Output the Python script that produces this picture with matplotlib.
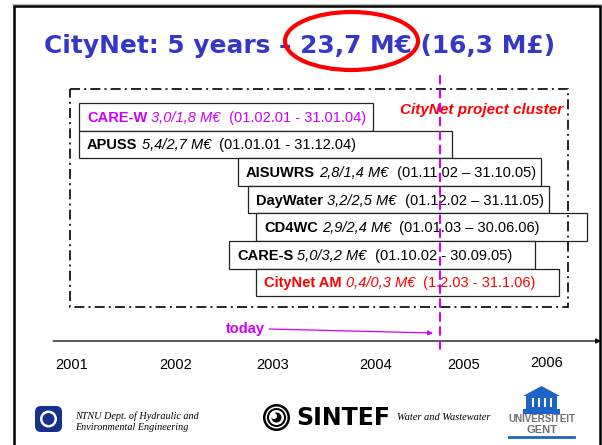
import matplotlib
matplotlib.use("Agg")
import matplotlib.pyplot as plt
from matplotlib.patches import Ellipse, Rectangle, Circle, FancyBboxPatch, Polygon
from matplotlib.offsetbox import TextArea, HPacker, AnnotationBbox

# --- data ---
title = "CityNet: 5 years – 23,7 M€ (16,3 M£)"
projects = ["CARE-W", "APUSS", "AISUWRS", "DayWater", "CD4WC", "CARE-S", "CityNet AM"]
budgets = ["3,0/1,8 M€", "5,4/2,7 M€", "2,8/1,4 M€", "3,2/2,5 M€",
           "2,9/2,4 M€", "5,0/3,2 M€", "0,4/0,3 M€"]
periods = ["(01.02.01 - 31.01.04)", "(01.01.01 - 31.12.04)", "(01.11.02 – 31.10.05)",
           "(01.12.02 – 31.11.05)", "(01.01.03 – 30.06.06)", "(01.10.02 - 30.09.05)",
           "(1.2.03 - 31.1.06)"]
# bar extents on the slide's time line (slide units)
bar_start = [79, 79, 238, 248, 256, 229, 256]
bar_end = [373, 452, 541, 549, 587, 535, 559]
text_colors = ["#CC00FF", "black", "black", "black", "black", "black", "#FF0000"]

years = ["2001", "2002", "2003", "2004", "2005", "2006"]
year_ticks = [72, 176, 273, 376, 464, 547]
today_x = 440

MAG = "#CC00FF"
BLUE = "#3636C8"
SANS = "Liberation Sans"

fig = plt.figure(figsize=(6.02, 4.45), dpi=100)
ax = fig.add_axes([0, 0, 1, 1])
ax.set_xlim(0, 602)
ax.set_ylim(445, 0)
ax.axis("off")

# slide frame
ax.plot([12, 602], [4, 4], color="#BBBBBB", lw=0.8)
ax.plot([14, 14, 600, 600], [460, 6, 6, 460], color="black", lw=1.8,
        solid_joinstyle="miter")

# title + red ellipse
ax.text(300, 53, title, ha="center", va="baseline", fontsize=17.9,
        fontweight="bold", color=BLUE, family="DejaVu Sans")
ax.add_patch(Ellipse((351.5, 41), 133, 58, fill=False, ec="#FF0000", lw=3, zorder=5))

# project bars
row_top, row_h = 103, 27.6
rows = [row_top + row_h * (i + 0.5) for i in range(len(projects))]
widths = [e - s for s, e in zip(bar_start, bar_end)]
ax.barh(rows, widths, left=bar_start, height=row_h, color="white",
        edgecolor="#222222", lw=0.9, zorder=2)

for y, s, name, bud, per, c in zip(rows, bar_start, projects, budgets, periods, text_colors):
    parts = [TextArea(name, textprops=dict(fontsize=10.5, fontweight="bold", color=c, family=SANS)),
             TextArea(bud, textprops=dict(fontsize=10.5, style="italic", color=c, family=SANS)),
             TextArea(" " + per, textprops=dict(fontsize=10.5, color=c, family=SANS))]
    pack = HPacker(children=parts, sep=3, pad=0, align="baseline")
    ab = AnnotationBbox(pack, (s + 8, y + 1), box_alignment=(0, 0.5), frameon=False,
                        pad=0, zorder=3)
    ax.add_artist(ab)

# cluster frame
ax.add_patch(Rectangle((70, 89), 498, 218, fill=False, ec="black", lw=1.2,
                       ls=(0, (6, 2.5, 1.2, 2.5)), zorder=4))
ax.text(563, 110, "CityNet project cluster", ha="right", va="center", fontsize=11,
        fontweight="bold", style="italic", color="#FF0000", family=SANS, zorder=4)

# today marker
ax.plot([today_x, today_x], [75, 352], color=MAG, lw=1.5, ls=(0, (4.5, 2.2)), zorder=6)
ax.text(245, 329, "today", ha="center", va="center", fontsize=10.5, fontweight="bold",
        color=MAG, family=SANS)
ax.annotate("", xy=(today_x - 7, 333), xytext=(269, 329),
            arrowprops=dict(arrowstyle="-|>", color=MAG, lw=0.9, mutation_scale=7,
                            shrinkA=0, shrinkB=0))

# time axis
ax.annotate("", xy=(601, 341), xytext=(53, 341),
            arrowprops=dict(arrowstyle="-|>", color="black", lw=0.9, mutation_scale=7,
                            shrinkA=0, shrinkB=0))
for yr, x in zip(years, year_ticks):
    ax.text(x, 363 if yr == "2006" else 365, yr, ha="center", va="center",
            fontsize=10.5, family=SANS)

# footer: NTNU
ax.add_patch(FancyBboxPatch((35, 406), 27, 26, boxstyle="round,pad=0,rounding_size=6",
                            fc="#15318C", ec="none"))
ax.add_patch(Circle((48.5, 419), 8.5, fc="white", ec="none"))
ax.add_patch(Circle((48.5, 419), 6, fc="#15318C", ec="none"))
ax.text(75, 416, "NTNU Dept. of Hydraulic and", fontsize=7.3, style="italic",
        family="Liberation Serif", va="center")
ax.text(75, 427, "Environmental Engineering", fontsize=7.3, style="italic",
        family="Liberation Serif", va="center")

# footer: SINTEF
for r, col in [(13.5, "black"), (11, "white"), (9.5, "black"), (7.5, "white"), (5, "black")]:
    ax.add_patch(Circle((276.5, 417.5), r, fc=col, ec="none"))
ax.add_patch(Circle((274, 416), 3, fc="white", ec="none"))
ax.text(296, 418, "SINTEF", fontsize=17, fontweight="bold", family="DejaVu Sans",
        va="center", ha="left")
ax.text(397, 418, "Water and Wastewater", fontsize=7.5, style="italic",
        family="Liberation Serif", va="center")

# footer: Ghent University
UG = "#1E64C8"
ax.add_patch(Polygon([(523, 396), (541.5, 386), (560, 396)], fc=UG, ec="none"))
ax.add_patch(Rectangle((526, 396), 31, 13, fc=UG, ec="none"))
for gx in [532, 538, 544, 550]:
    ax.add_patch(Rectangle((gx, 398), 1.5, 9, fc="white", ec="none"))
ax.add_patch(Rectangle((523, 409), 37, 4.5, fc=UG, ec="none"))
ax.text(541.5, 419.5, "UNIVERSITEIT", fontsize=7, fontweight="bold", color="#6E6E6E",
        family=["Liberation Sans Narrow", SANS], ha="center", va="center")
ax.text(541.5, 430, "GENT", fontsize=8, fontweight="bold", color="#6E6E6E",
        family=["Liberation Sans Narrow", SANS], ha="center", va="center")
ax.plot([509, 574], [437, 437], color=UG, lw=2)

fig.savefig("out.png", dpi=100)
